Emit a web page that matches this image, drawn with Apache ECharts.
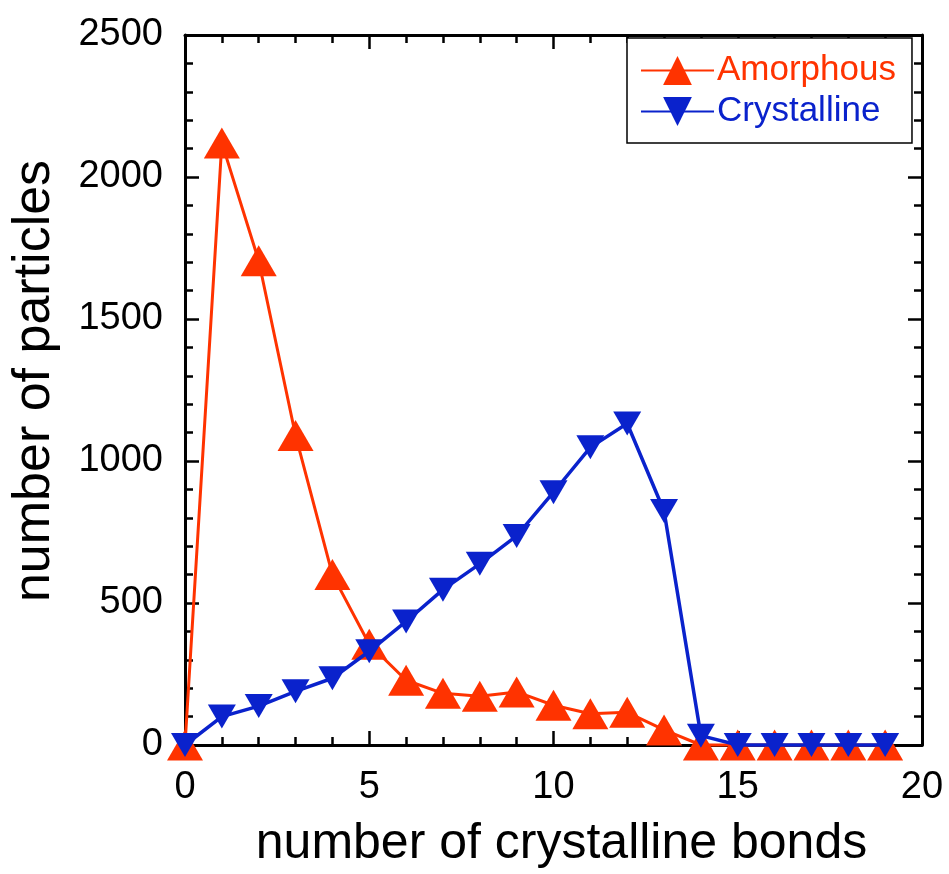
<!DOCTYPE html>
<html>
<head>
<meta charset="utf-8">
<script src="https://cdn.jsdelivr.net/npm/echarts@6/dist/echarts.min.js"></script>
<style>html,body{margin:0;padding:0;background:#fff}#c{width:949px;height:874px}</style>
</head>
<body>
<div id="c"></div>
<script>
// number of crystalline bonds
const bonds = [0,1,2,3,4,5,6,7,8,9,10,11,12,13,14,15,16,17,18,19];
const amorphous = [0,2120,1705,1090,600,355,228,182,172,187,140,110,115,53,0,0,0,0,0,0];
const crystalline = [0,100,137,189,235,330,435,547,638,736,890,1048,1132,824,33,0,0,0,0,0];
const xTicks = [0,5,10,15,20];
const yTicks = [0,500,1000,1500,2000,2500];
const seriesNames = ['Amorphous','Crystalline'];
const RED = '#ff3300', BLUE = '#0a22cc';
const FONT = 'Liberation Sans, Arial, sans-serif';

const chart = echarts.init(document.getElementById('c'), null, {renderer:'canvas'});
const axisLine = {show:true, onZero:false, lineStyle:{color:'#000', width:3}};
const xBase = {type:'value', min:xTicks[0], max:xTicks[xTicks.length-1], interval:5,
  axisLine, splitLine:{show:false},
  axisTick:{show:true, inside:true, length:14, lineStyle:{color:'#000', width:2.5}},
  minorTick:{show:true, splitNumber:5, length:8, lineStyle:{color:'#000', width:2.5}}};
const yBase = {type:'value', min:yTicks[0], max:yTicks[yTicks.length-1], interval:500,
  axisLine, splitLine:{show:false},
  axisTick:{show:true, inside:true, length:14, lineStyle:{color:'#000', width:2.5}},
  minorTick:{show:true, splitNumber:5, length:8, lineStyle:{color:'#000', width:2.5}}};

chart.setOption({
  animation:false,
  grid:{left:185, right:27, top:35, bottom:125, containLabel:false},
  xAxis:[
    Object.assign({}, xBase, {position:'bottom',
      name:'number of crystalline bonds', nameLocation:'middle', nameGap:74,
      nameTextStyle:{fontFamily:FONT, fontSize:50, color:'#000', padding:[0,0,0,16]},
      axisLabel:{show:true, margin:24, fontFamily:FONT, fontSize:38, color:'#000',
        formatter:v=>String(v)}}),
    Object.assign({}, xBase, {position:'top', axisLabel:{show:false}})
  ],
  yAxis:[
    Object.assign({}, yBase, {position:'left',
      name:'number of particles', nameLocation:'middle', nameGap:124,
      nameTextStyle:{fontFamily:FONT, fontSize:52, color:'#000', padding:[0,0,0,18]},
      axisLabel:{show:true, margin:22, fontFamily:FONT, fontSize:38, color:'#000',
        formatter:v=>String(v)}}),
    Object.assign({}, yBase, {position:'right', axisLabel:{show:false}})
  ],
  legend:{
    orient:'vertical', left:627, top:38, width:260,
    padding:[15,16,14,13], itemGap:6, itemWidth:73, itemHeight:36,
    borderColor:'#000', borderWidth:1.5, backgroundColor:'#fff',
    textStyle:{fontFamily:FONT, fontSize:35, padding:[0,0,0,-2]},
    data:[
      {name:seriesNames[0], textStyle:{color:RED}},
      {name:seriesNames[1], textStyle:{color:BLUE}}
    ]
  },
  series:[
    {name:seriesNames[0], type:'line', data:bonds.map((b,i)=>[b, amorphous[i]]),
      symbol:'triangle', symbolSize:[36,31], clip:false, z:2,
      lineStyle:{color:RED, width:3}, itemStyle:{color:RED}},
    {name:seriesNames[1], type:'line', data:bonds.map((b,i)=>[b, crystalline[i]]),
      symbol:'triangle', symbolRotate:180, symbolSize:[28,24], clip:false, z:3,
      lineStyle:{color:BLUE, width:3.5}, itemStyle:{color:BLUE}}
  ]
});
</script>
</body>
</html>
